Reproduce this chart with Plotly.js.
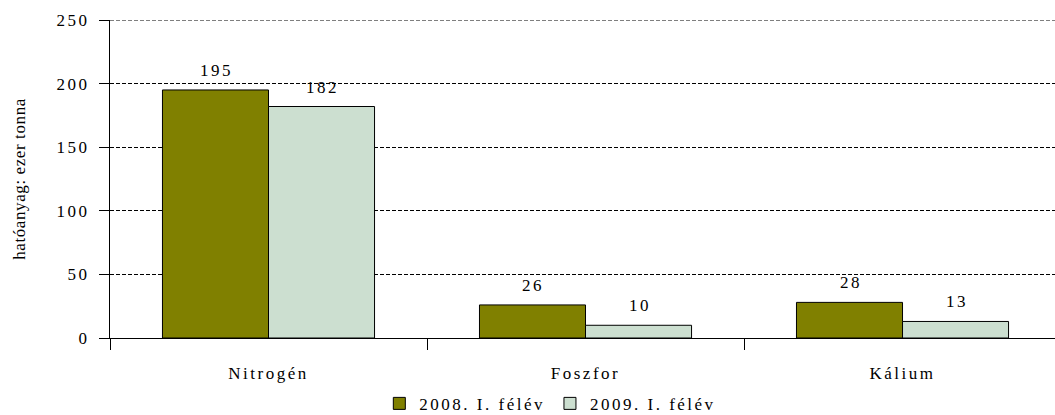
<!DOCTYPE html>
<html>
<head>
<meta charset="utf-8">
<script src="https://cdn.plot.ly/plotly-3.0.1.min.js"></script>
<style>
html,body{margin:0;padding:0;background:#fff;}
svg text{letter-spacing:2.5px;}
svg .g-ytitle text{letter-spacing:0.6px;}
</style>
</head>
<body>
<div id="chart" style="width:1055px;height:415px;"></div>
<script>
const categories = ["Nitrogén", "Foszfor", "Kálium"];
const seriesNames = ["2008. I. félév", "2009. I. félév"];
const values2008 = [195, 26, 28];
const values2009 = [182, 10, 13];
const yTicks = [0, 50, 100, 150, 200, 250];
const yTitle = "hatóanyag: ezer tonna";

const colors = ["#808000", "#CCDFD0"];
const bargap = 0.331;
const serif = "Liberation Serif, Times New Roman, Tinos, DejaVu Serif, serif";

const traces = [values2008, values2009].map((vals, i) => ({
  type: "bar",
  name: seriesNames[i],
  x: categories,
  y: vals,
  marker: {color: colors[i], line: {color: "#000", width: 1}},
  hoverinfo: "x+y+name"
}));

const half = (1 - bargap) / 4;
const annotations = [];
[values2008, values2009].forEach((vals, i) => {
  vals.forEach((v, j) => {
    annotations.push({
      x: j + (i === 0 ? -half : half),
      y: v,
      xref: "x", yref: "y",
      text: String(v),
      showarrow: false,
      yanchor: "bottom",
      yshift: 8,
      xshift: 1,
      font: {family: serif, size: 17, color: "#000"}
    });
  });
});

const layout = {
  width: 1055,
  height: 415,
  margin: {l: 110, r: 0, t: 20, b: 77, autoexpand: false},
  paper_bgcolor: "#fff",
  plot_bgcolor: "#fff",
  barmode: "group",
  bargap: bargap,
  bargroupgap: 0,
  font: {family: serif, size: 17, color: "#000"},
  showlegend: true,
  legend: {
    orientation: "h",
    x: 0.285, xanchor: "left",
    y: -0.207, yanchor: "middle",
    font: {family: serif, size: 17, color: "#000"},
    traceorder: "normal"
  },
  xaxis: {
    type: "category",
    range: [-0.5, 2.481],
    showgrid: false,
    showline: true,
    linecolor: "#000",
    linewidth: 1,
    ticks: "outside",
    tickson: "boundaries",
    ticklen: 11,
    tickcolor: "#000",
    ticklabelstandoff: 20,
    tickfont: {family: serif, size: 17, color: "#000"},
    automargin: false,
    fixedrange: true
  },
  yaxis: {
    range: [0, 250],
    tickvals: yTicks,
    ticktext: yTicks.map(String),
    showline: true,
    linecolor: "#000",
    linewidth: 1,
    ticks: "outside",
    ticklen: 10,
    tickcolor: "#000",
    ticklabelstandoff: 6,
    showgrid: true,
    gridcolor: "#000",
    griddash: "4px,2px",
    gridwidth: 1,
    zeroline: false,
    tickfont: {family: serif, size: 17, color: "#000"},
    title: {text: yTitle, font: {family: serif, size: 17, color: "#000"}, standoff: 26},
    automargin: false,
    fixedrange: true
  },
  shapes: [{
    type: "line", xref: "paper", yref: "y",
    x0: 0, x1: 1, y0: yTicks[yTicks.length - 1], y1: yTicks[yTicks.length - 1],
    line: {color: "#000", width: 1, dash: "4px,2px"}
  }],
  annotations: annotations
};

Plotly.newPlot("chart", traces, layout, {displayModeBar: false, staticPlot: true});
</script>
</body>
</html>
